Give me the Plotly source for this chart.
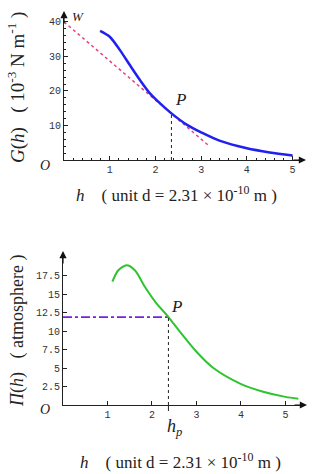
import plotly.graph_objects as go

# ---- data ----
h_G = [0.79, 1.0, 1.22, 1.44, 1.66, 1.88, 2.02, 2.35, 2.7, 3.0, 3.4, 4.0, 4.5, 5.0]
G_vals = [37.4, 35.7, 31.9, 27.5, 23.2, 19.3, 17.4, 13.5, 10.1, 8.0, 5.6, 3.4, 2.2, 1.3]
tan_h = [0.0, 3.19]
tan_G = [40.0, 3.9]
hP_top = 2.35
GP = 13.5

h_Pi = [1.11, 1.24, 1.43, 1.62, 1.84, 2.07, 2.37, 2.63, 3.0, 3.38, 3.98, 4.5, 5.0, 5.29]
Pi_vals = [16.7, 18.2, 18.9, 18.2, 16.0, 14.0, 11.9, 9.9, 7.2, 5.0, 2.9, 1.8, 1.1, 0.85]
hP_bot = 2.37
PiP = 11.9

top_xticks = [1, 2, 3, 4, 5]
top_yticks = [10, 20, 30, 40]
bot_xticks = [1, 2, 3, 4, 5]
bot_yticks = [2.5, 5, 7.5, 10, 12.5, 15, 17.5]

W, H = 316, 474
def px(x): return x / W
def py(y): return 1 - y / H

fig = go.Figure()

# top chart
fig.add_trace(go.Scatter(x=tan_h, y=tan_G, mode="lines",
                         line=dict(color="#e8407a", width=1.5, dash="dot"),
                         xaxis="x", yaxis="y", showlegend=False))
fig.add_trace(go.Scatter(x=h_G, y=G_vals, mode="lines", line_shape="spline",
                         line=dict(color="#2020f0", width=2.5, smoothing=0.8),
                         xaxis="x", yaxis="y", showlegend=False))
fig.add_trace(go.Scatter(x=[hP_top, hP_top], y=[0, GP], mode="lines",
                         line=dict(color="#222222", width=1, dash="dot"),
                         xaxis="x", yaxis="y", showlegend=False))

# bottom chart
fig.add_trace(go.Scatter(x=[0, hP_bot], y=[PiP, PiP], mode="lines",
                         line=dict(color="#7a1fe0", width=1.8, dash="dashdot"),
                         xaxis="x2", yaxis="y2", showlegend=False))
fig.add_trace(go.Scatter(x=h_Pi, y=Pi_vals, mode="lines", line_shape="spline",
                         line=dict(color="#2ec42e", width=2, smoothing=0.8),
                         xaxis="x2", yaxis="y2", showlegend=False))
fig.add_trace(go.Scatter(x=[hP_bot, hP_bot], y=[0, PiP], mode="lines",
                         line=dict(color="#222222", width=1, dash="dot"),
                         xaxis="x2", yaxis="y2", showlegend=False))

tickfont = dict(family="Liberation Mono", size=10, color="#333333")
axcommon = dict(showgrid=False, zeroline=False, showline=True, linecolor="#222222",
                linewidth=1.2, ticks="inside", ticklen=4, tickcolor="#222222",
                tickfont=tickfont, fixedrange=True)

fig.update_layout(
    width=W, height=H, margin=dict(l=0, r=0, t=0, b=0),
    paper_bgcolor="white", plot_bgcolor="white",
    xaxis=dict(domain=[px(64), px(304)], range=[0, 5.25], anchor="y",
               tickvals=top_xticks, ticktext=[str(v) for v in top_xticks],
               minor=dict(ticks="inside", ticklen=2, dtick=0.2, tickcolor="#222222"),
               **axcommon),
    yaxis=dict(domain=[py(160), py(15)], range=[0, 42], anchor="x",
               tickvals=top_yticks, ticktext=[str(v) for v in top_yticks],
               minor=dict(ticks="inside", ticklen=2, dtick=2, tickcolor="#222222"),
               **axcommon),
    xaxis2=dict(domain=[px(63), px(305)], range=[0, 5.44], anchor="y2",
                tickvals=bot_xticks, ticktext=[str(v) for v in bot_xticks],
                **axcommon),
    yaxis2=dict(domain=[py(405), py(255)], range=[0, 20.3], anchor="x2",
                tickvals=bot_yticks, ticktext=[str(v) for v in bot_yticks],
                **axcommon),
    shapes=[dict(type="line", xref="x2", yref="paper", x0=hP_bot, x1=hP_bot,
                 y0=py(405), y1=py(411), line=dict(color="#222222", width=1))],
)

serif = "Liberation Serif"
ann = []
# axis arrows
for (x, y, ax, ay) in [(px(306), py(160), -14, 0), (px(64), py(11), 0, 14),
                       (px(307), py(405), -14, 0), (px(63), py(251), 0, 14)]:
    ann.append(dict(x=x, y=y, xref="paper", yref="paper", ax=ax, ay=ay,
                    axref="pixel", ayref="pixel", text="", showarrow=True,
                    arrowhead=2, arrowsize=1.2, arrowwidth=1.2, arrowcolor="#111111"))
sp = "&nbsp;"
xtitle = ("<i>h</i>" + sp * 4 + "(" + sp + "unit d = 2.31 × 10<sup>-10</sup>" + sp + "m" + sp + ")")
# texts
ann += [
    dict(x=px(78), y=py(16), text="<i>W</i>", font=dict(family=serif, size=13, color="#222")),
    dict(x=px(180), y=py(100), text="<i>P</i>", font=dict(family=serif, size=17, color="#222")),
    dict(x=px(45), y=py(166), text="<i>O</i>", font=dict(family=serif, size=14, color="#222")),
    dict(x=px(17), y=py(88), text="<i>G</i>(<i>h</i>)" + sp * 3 + "(" + sp + "10<sup>-3</sup> N m<sup>-1</sup>" + sp + ")",
         textangle=-90, font=dict(family=serif, size=19, color="#222")),
    dict(x=px(176), y=py(194), text=xtitle,
         font=dict(family=serif, size=17, color="#222")),
    dict(x=px(176), y=py(306), text="<i>P</i>", font=dict(family=serif, size=17, color="#222")),
    dict(x=px(45), y=py(409), text="<i>O</i>", font=dict(family=serif, size=14, color="#222")),
    dict(x=px(174), y=py(427), text="<i>h</i><sub><i>p</i></sub>", font=dict(family=serif, size=18, color="#222")),
    dict(x=px(17), y=py(331), text="<i>Π</i>(<i>h</i>)" + sp * 3 + "(" + sp + "atmosphere" + sp + ")",
         textangle=-90, font=dict(family=serif, size=18, color="#222")),
    dict(x=px(180), y=py(461), text=xtitle,
         font=dict(family=serif, size=17, color="#222")),
]
for a in ann:
    a.setdefault("xref", "paper")
    a.setdefault("yref", "paper")
    a.setdefault("showarrow", False)
    a.setdefault("xanchor", "center")
    a.setdefault("yanchor", "middle")
fig.update_layout(annotations=ann)

fig.write_html("out.html", config={"displayModeBar": False},
               post_script="document.body.style.margin='0px';")
